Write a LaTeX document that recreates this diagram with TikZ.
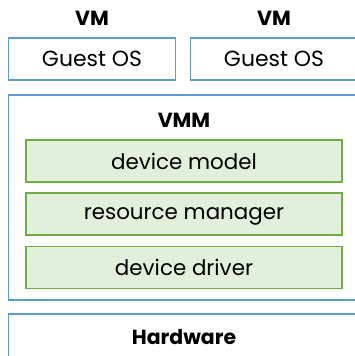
\documentclass[tikz,border=0pt]{standalone}
\usepackage{fontspec}
\setmainfont{Poppins}
\definecolor{vmblue}{RGB}{91,155,213}
\definecolor{modgreen}{RGB}{112,173,71}
\definecolor{modfill}{RGB}{226,239,218}

\begin{document}
\begin{tikzpicture}[x=1bp,y=1bp]
\tikzstyle{every node}+=[inner sep=0pt]
\tikzstyle{bluebox}=[draw=vmblue, line width=1.8bp, rectangle]
\tikzstyle{greenbox}=[draw=modgreen, fill=modfill, line width=1.8bp, rectangle,
  minimum width=316bp, minimum height=42bp, text depth=0pt,
  font=\fontsize{21.5}{24}\selectfont]
\tikzstyle{heading}=[font=\fontsize{20.5}{23}\selectfont\bfseries]
\useasboundingbox (0,0) rectangle (355,-356);
% virtual machines
\node [bluebox, minimum width=167bp, minimum height=42bp,
  font=\fontsize{22}{25}\selectfont] (guest1) at (92,-59) {Guest OS};
\node [bluebox, minimum width=167bp, minimum height=42bp,
  font=\fontsize{22}{25}\selectfont] (guest2) at (274,-59) {Guest OS};
\node [heading] (vm1) at (92,-18) {VM};
\node [heading] (vm2) at (274,-18) {VM};
% monitor
\node [bluebox, minimum width=351bp, minimum height=205bp] (vmm) at (184,-197.5) {};
\node [heading] (vmmlabel) at (184,-120) {VMM};
\node [greenbox] (model) at (184,-161) {device model};
\node [greenbox] (manager) at (184,-214) {resource manager};
\node [greenbox] (driver) at (184,-267.5) {device driver};
% hardware
\node [bluebox, minimum width=351bp, minimum height=60bp] (hw) at (184,-344) {};
\node [heading] (hwlabel) at (184,-337) {Hardware};
\end{tikzpicture}
\end{document}
